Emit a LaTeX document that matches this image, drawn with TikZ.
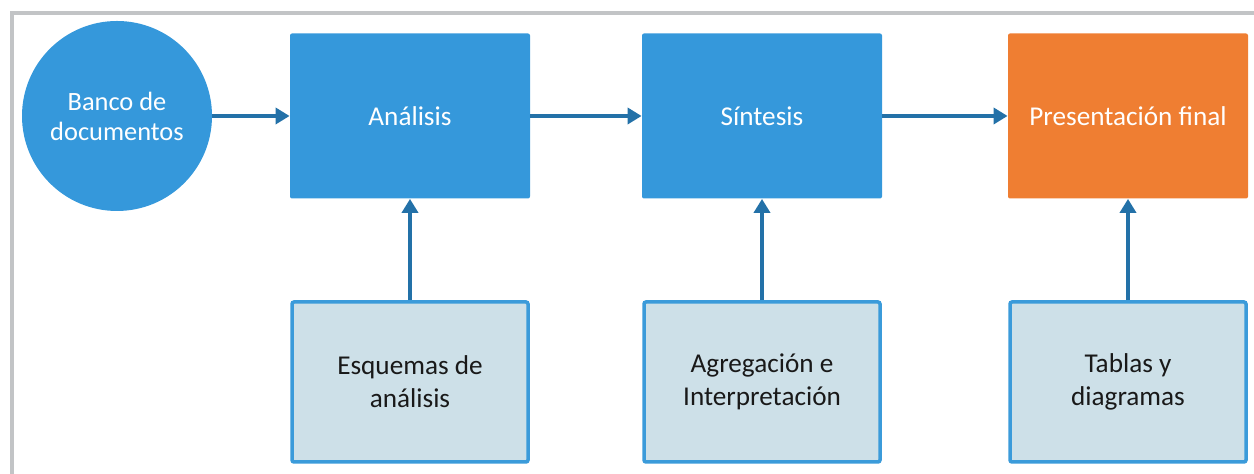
\documentclass[tikz,border=0pt]{standalone}
\usepackage{fontspec}
\setmainfont{Carlito}
\usepackage[usenames,dvipsnames]{xcolor}
\usetikzlibrary{arrows.meta, positioning}
\definecolor{mainblue}{HTML}{3598DB}
\definecolor{arrowblue}{HTML}{2371A8}
\definecolor{paleblue}{HTML}{CDE0E8}
\definecolor{edgeblue}{HTML}{3B9BDA}
\definecolor{finalorange}{HTML}{EF7E32}
\definecolor{framegray}{HTML}{C2C4C6}

\begin{document}
\begin{tikzpicture}[x=0.5pt, y=0.5pt,
	stage/.style={rectangle, rounded corners=1pt, fill=mainblue, text=white, minimum width=120pt, minimum height=82.5pt, align=center, font=\fontsize{13.6}{15}\selectfont},
	tool/.style={rectangle, rounded corners=1pt, draw=edgeblue, line width=1.75pt, fill=paleblue, text=black!90, minimum width=118pt, minimum height=80pt, align=center, font=\fontsize{13.6}{16.5}\selectfont},
	flow/.style={draw=arrowblue, line width=2.1pt, -{Triangle[length=7pt, width=8pt]}}]
	\useasboundingbox (0,0) rectangle (1254,474);
	\draw[framegray, line width=1.75pt] (12,0) -- (12,461) -- (1254,461);
	\node[circle, fill=mainblue, text=white, minimum size=95pt, align=center, font=\fontsize{13.2}{15}\selectfont] (banco) at (117,358) {Banco de\\documentos};
	\node[stage] (analisis) at (410,358) {Análisis};
	\node[stage] (sintesis) at (762,358) {Síntesis};
	\node[stage, fill=finalorange] (final) at (1128,358) {Presentación final};
	\node[tool] (esquemas) at (410,92) {Esquemas de\\análisis};
	\node[tool] (agregacion) at (762,92) {Agregación e\\Interpretación};
	\node[tool] (tablas) at (1128,92) {Tablas y\\diagramas};
	\draw[flow] (banco) -- (analisis);
	\draw[flow] (analisis) -- (sintesis);
	\draw[flow] (sintesis) -- (final);
	\draw[flow] (esquemas) -- (analisis);
	\draw[flow] (agregacion) -- (sintesis);
	\draw[flow] (tablas) -- (final);
\end{tikzpicture}
\end{document}
